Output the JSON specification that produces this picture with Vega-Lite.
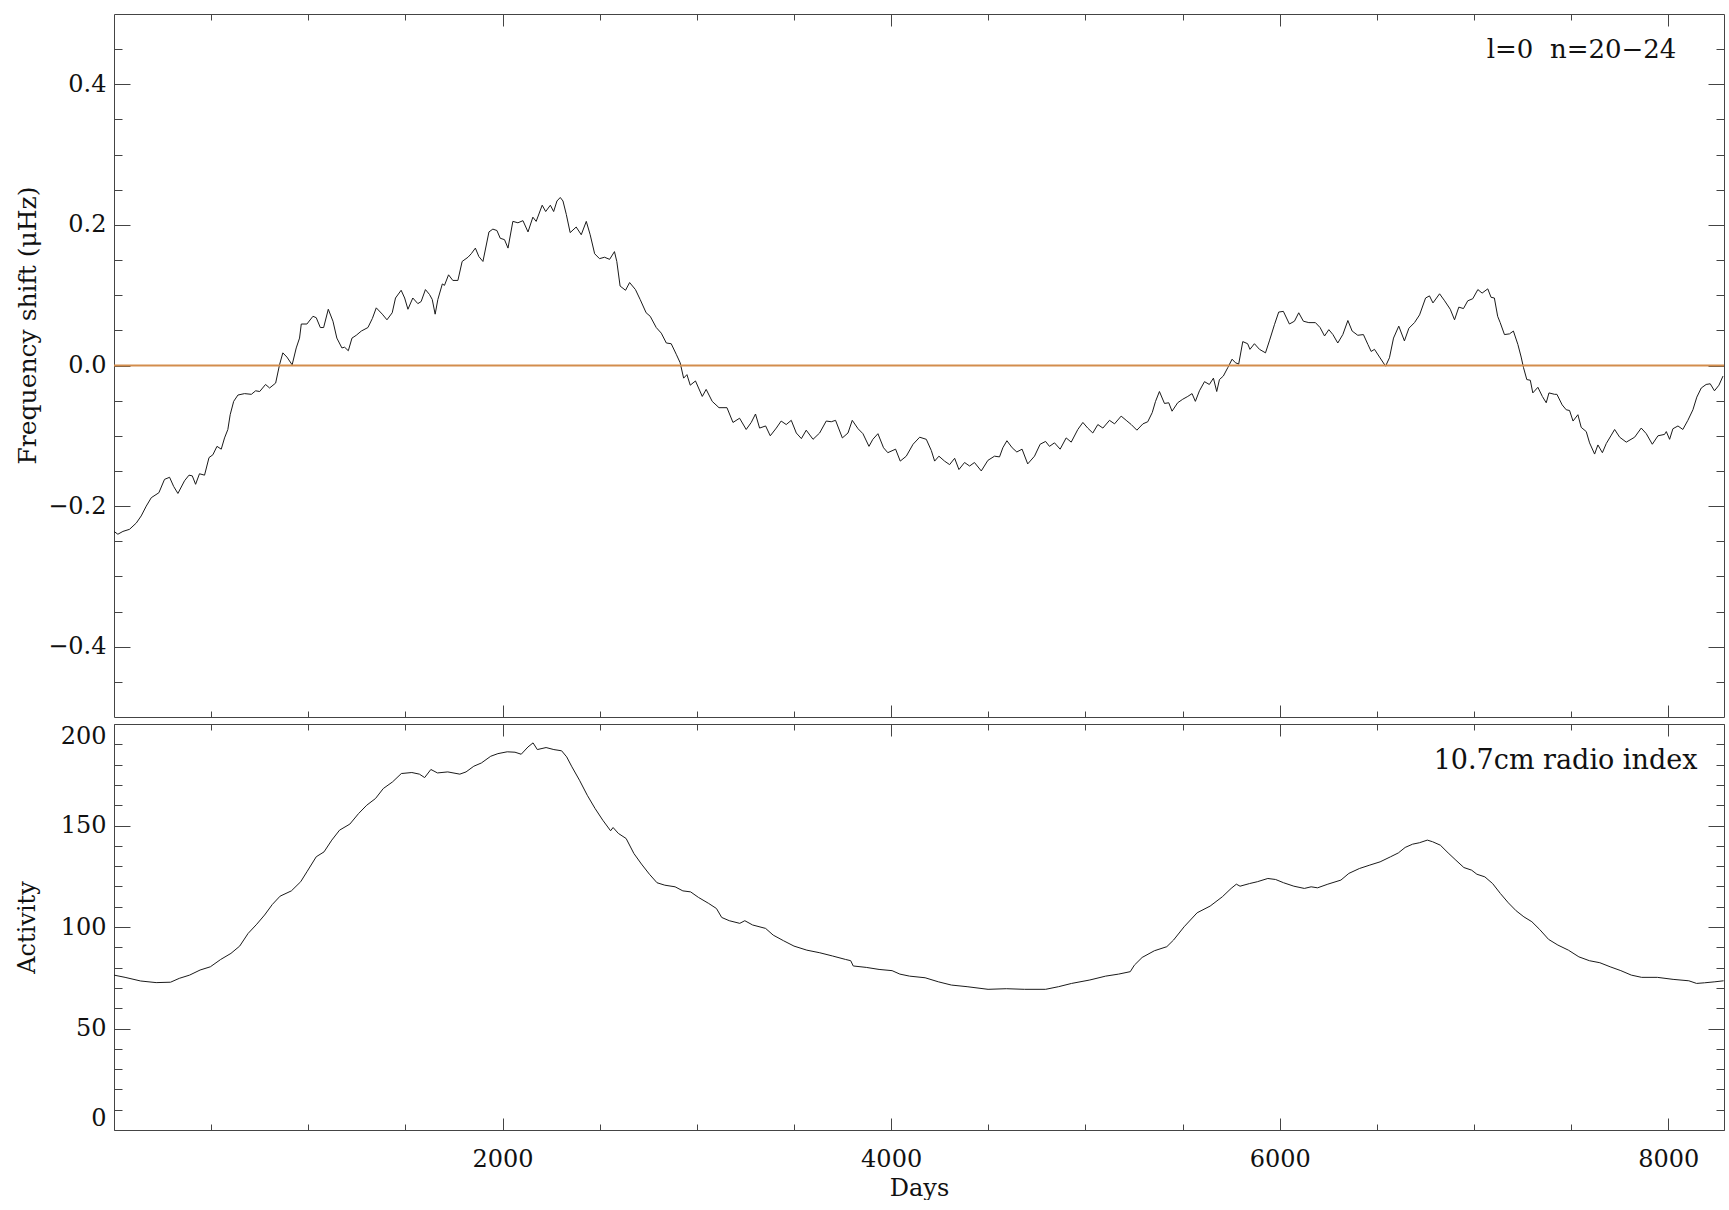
{
  "$schema": "https://vega.github.io/schema/vega-lite/v6.json",
  "background": "white",
  "padding": {"left": 15, "top": 13, "right": 4, "bottom": 0},
  "spacing": 5,
  "config": {
    "view": {"stroke": null},
    "font": "DejaVu Serif",
    "axis": {
      "labelFont": "DejaVu Serif", "titleFont": "DejaVu Serif",
      "labelFontSize": 24, "titleFontSize": 24,
      "labelColor": "#111", "titleColor": "#111", "titleFontWeight": "normal",
      "domainColor": "#444", "tickColor": "#444", "domainWidth": 1, "tickWidth": 1,
      "grid": false, "labelOverlap": false, "labelFlush": false
    }
  },
  "datasets": {
    "shift": [
      {"d":0,"v":-0.236},{"d":20,"v":-0.240},{"d":46,"v":-0.236},{"d":80,"v":-0.233},{"d":115,"v":-0.224},{"d":140,"v":-0.214},{"d":166,"v":-0.200},{"d":192,"v":-0.188},{"d":231,"v":-0.181},{"d":260,"v":-0.162},{"d":286,"v":-0.159},{"d":307,"v":-0.172},{"d":329,"v":-0.182},{"d":363,"v":-0.164},{"d":386,"v":-0.156},{"d":403,"v":-0.157},{"d":420,"v":-0.169},{"d":440,"v":-0.154},{"d":466,"v":-0.156},{"d":489,"v":-0.131},{"d":509,"v":-0.127},{"d":530,"v":-0.115},{"d":552,"v":-0.119},{"d":569,"v":-0.103},{"d":586,"v":-0.091},{"d":598,"v":-0.070},{"d":616,"v":-0.051},{"d":638,"v":-0.042},{"d":672,"v":-0.040},{"d":707,"v":-0.041},{"d":729,"v":-0.036},{"d":750,"v":-0.037},{"d":780,"v":-0.027},{"d":801,"v":-0.032},{"d":832,"v":-0.025},{"d":852,"v":0.001},{"d":869,"v":0.018},{"d":890,"v":0.012},{"d":917,"v":0.001},{"d":938,"v":0.025},{"d":955,"v":0.039},{"d":964,"v":0.059},{"d":993,"v":0.059},{"d":1024,"v":0.070},{"d":1041,"v":0.068},{"d":1062,"v":0.054},{"d":1079,"v":0.054},{"d":1103,"v":0.080},{"d":1127,"v":0.063},{"d":1147,"v":0.039},{"d":1173,"v":0.025},{"d":1187,"v":0.026},{"d":1206,"v":0.021},{"d":1225,"v":0.039},{"d":1247,"v":0.043},{"d":1273,"v":0.049},{"d":1307,"v":0.054},{"d":1330,"v":0.067},{"d":1350,"v":0.082},{"d":1381,"v":0.073},{"d":1405,"v":0.065},{"d":1432,"v":0.075},{"d":1449,"v":0.096},{"d":1478,"v":0.107},{"d":1496,"v":0.096},{"d":1513,"v":0.080},{"d":1538,"v":0.096},{"d":1564,"v":0.088},{"d":1581,"v":0.091},{"d":1603,"v":0.108},{"d":1624,"v":0.101},{"d":1638,"v":0.094},{"d":1653,"v":0.073},{"d":1667,"v":0.094},{"d":1690,"v":0.116},{"d":1701,"v":0.114},{"d":1722,"v":0.129},{"d":1744,"v":0.121},{"d":1770,"v":0.121},{"d":1792,"v":0.148},{"d":1822,"v":0.154},{"d":1839,"v":0.159},{"d":1860,"v":0.167},{"d":1878,"v":0.155},{"d":1899,"v":0.148},{"d":1930,"v":0.190},{"d":1950,"v":0.194},{"d":1971,"v":0.192},{"d":1988,"v":0.181},{"d":2010,"v":0.179},{"d":2028,"v":0.167},{"d":2053,"v":0.205},{"d":2079,"v":0.203},{"d":2105,"v":0.206},{"d":2131,"v":0.190},{"d":2156,"v":0.211},{"d":2173,"v":0.205},{"d":2204,"v":0.228},{"d":2222,"v":0.219},{"d":2246,"v":0.228},{"d":2263,"v":0.219},{"d":2280,"v":0.234},{"d":2297,"v":0.239},{"d":2311,"v":0.234},{"d":2328,"v":0.215},{"d":2348,"v":0.189},{"d":2379,"v":0.197},{"d":2405,"v":0.186},{"d":2431,"v":0.205},{"d":2451,"v":0.186},{"d":2474,"v":0.159},{"d":2499,"v":0.152},{"d":2525,"v":0.154},{"d":2551,"v":0.151},{"d":2576,"v":0.162},{"d":2588,"v":0.148},{"d":2605,"v":0.113},{"d":2633,"v":0.107},{"d":2654,"v":0.118},{"d":2684,"v":0.108},{"d":2708,"v":0.094},{"d":2739,"v":0.075},{"d":2760,"v":0.070},{"d":2791,"v":0.054},{"d":2817,"v":0.046},{"d":2843,"v":0.032},{"d":2868,"v":0.031},{"d":2894,"v":0.016},{"d":2914,"v":0.004},{"d":2932,"v":-0.018},{"d":2949,"v":-0.013},{"d":2966,"v":-0.028},{"d":2993,"v":-0.022},{"d":3028,"v":-0.044},{"d":3048,"v":-0.034},{"d":3079,"v":-0.051},{"d":3114,"v":-0.060},{"d":3155,"v":-0.060},{"d":3186,"v":-0.081},{"d":3220,"v":-0.075},{"d":3254,"v":-0.091},{"d":3280,"v":-0.081},{"d":3302,"v":-0.069},{"d":3323,"v":-0.089},{"d":3354,"v":-0.086},{"d":3378,"v":-0.100},{"d":3409,"v":-0.089},{"d":3434,"v":-0.079},{"d":3460,"v":-0.084},{"d":3486,"v":-0.078},{"d":3512,"v":-0.096},{"d":3538,"v":-0.104},{"d":3563,"v":-0.092},{"d":3598,"v":-0.105},{"d":3632,"v":-0.096},{"d":3666,"v":-0.079},{"d":3692,"v":-0.080},{"d":3714,"v":-0.078},{"d":3749,"v":-0.103},{"d":3778,"v":-0.096},{"d":3800,"v":-0.078},{"d":3830,"v":-0.090},{"d":3855,"v":-0.097},{"d":3886,"v":-0.115},{"d":3906,"v":-0.105},{"d":3932,"v":-0.097},{"d":3961,"v":-0.117},{"d":3983,"v":-0.124},{"d":4023,"v":-0.119},{"d":4047,"v":-0.136},{"d":4078,"v":-0.129},{"d":4113,"v":-0.112},{"d":4147,"v":-0.102},{"d":4181,"v":-0.105},{"d":4207,"v":-0.121},{"d":4224,"v":-0.136},{"d":4246,"v":-0.129},{"d":4275,"v":-0.136},{"d":4301,"v":-0.141},{"d":4327,"v":-0.132},{"d":4349,"v":-0.148},{"d":4378,"v":-0.138},{"d":4404,"v":-0.143},{"d":4429,"v":-0.138},{"d":4464,"v":-0.150},{"d":4498,"v":-0.135},{"d":4532,"v":-0.129},{"d":4558,"v":-0.130},{"d":4575,"v":-0.117},{"d":4596,"v":-0.107},{"d":4623,"v":-0.117},{"d":4647,"v":-0.123},{"d":4674,"v":-0.119},{"d":4703,"v":-0.140},{"d":4738,"v":-0.129},{"d":4767,"v":-0.112},{"d":4795,"v":-0.108},{"d":4815,"v":-0.115},{"d":4841,"v":-0.110},{"d":4870,"v":-0.119},{"d":4901,"v":-0.103},{"d":4927,"v":-0.109},{"d":4961,"v":-0.091},{"d":4987,"v":-0.081},{"d":5012,"v":-0.089},{"d":5038,"v":-0.096},{"d":5064,"v":-0.084},{"d":5090,"v":-0.089},{"d":5124,"v":-0.078},{"d":5150,"v":-0.083},{"d":5184,"v":-0.072},{"d":5210,"v":-0.078},{"d":5236,"v":-0.084},{"d":5265,"v":-0.092},{"d":5296,"v":-0.083},{"d":5321,"v":-0.080},{"d":5344,"v":-0.067},{"d":5361,"v":-0.051},{"d":5381,"v":-0.037},{"d":5407,"v":-0.054},{"d":5429,"v":-0.053},{"d":5446,"v":-0.065},{"d":5475,"v":-0.053},{"d":5501,"v":-0.048},{"d":5527,"v":-0.044},{"d":5549,"v":-0.040},{"d":5566,"v":-0.051},{"d":5587,"v":-0.036},{"d":5613,"v":-0.023},{"d":5638,"v":-0.027},{"d":5659,"v":-0.018},{"d":5676,"v":-0.037},{"d":5690,"v":-0.020},{"d":5710,"v":-0.015},{"d":5733,"v":-0.003},{"d":5755,"v":0.009},{"d":5772,"v":0.004},{"d":5789,"v":0.002},{"d":5810,"v":0.034},{"d":5835,"v":0.031},{"d":5847,"v":0.023},{"d":5870,"v":0.031},{"d":5896,"v":0.023},{"d":5927,"v":0.018},{"d":5947,"v":0.035},{"d":5973,"v":0.058},{"d":5995,"v":0.076},{"d":6019,"v":0.077},{"d":6050,"v":0.059},{"d":6076,"v":0.063},{"d":6098,"v":0.075},{"d":6122,"v":0.063},{"d":6150,"v":0.061},{"d":6184,"v":0.061},{"d":6208,"v":0.054},{"d":6231,"v":0.042},{"d":6253,"v":0.051},{"d":6274,"v":0.044},{"d":6299,"v":0.032},{"d":6325,"v":0.044},{"d":6351,"v":0.064},{"d":6373,"v":0.049},{"d":6402,"v":0.043},{"d":6431,"v":0.044},{"d":6454,"v":0.030},{"d":6471,"v":0.020},{"d":6488,"v":0.023},{"d":6514,"v":0.012},{"d":6545,"v":-0.001},{"d":6565,"v":0.011},{"d":6586,"v":0.039},{"d":6613,"v":0.056},{"d":6642,"v":0.035},{"d":6665,"v":0.053},{"d":6694,"v":0.061},{"d":6720,"v":0.072},{"d":6751,"v":0.096},{"d":6771,"v":0.099},{"d":6789,"v":0.089},{"d":6823,"v":0.102},{"d":6849,"v":0.092},{"d":6878,"v":0.080},{"d":6900,"v":0.065},{"d":6922,"v":0.083},{"d":6946,"v":0.081},{"d":6968,"v":0.092},{"d":6994,"v":0.095},{"d":7020,"v":0.108},{"d":7042,"v":0.103},{"d":7071,"v":0.109},{"d":7088,"v":0.097},{"d":7105,"v":0.096},{"d":7122,"v":0.070},{"d":7135,"v":0.061},{"d":7157,"v":0.044},{"d":7183,"v":0.045},{"d":7203,"v":0.049},{"d":7226,"v":0.030},{"d":7243,"v":0.012},{"d":7255,"v":-0.003},{"d":7272,"v":-0.020},{"d":7290,"v":-0.021},{"d":7303,"v":-0.039},{"d":7329,"v":-0.031},{"d":7352,"v":-0.044},{"d":7372,"v":-0.053},{"d":7386,"v":-0.039},{"d":7415,"v":-0.041},{"d":7427,"v":-0.041},{"d":7454,"v":-0.056},{"d":7475,"v":-0.063},{"d":7492,"v":-0.064},{"d":7510,"v":-0.079},{"d":7535,"v":-0.070},{"d":7552,"v":-0.088},{"d":7578,"v":-0.094},{"d":7595,"v":-0.110},{"d":7621,"v":-0.126},{"d":7638,"v":-0.113},{"d":7661,"v":-0.124},{"d":7681,"v":-0.111},{"d":7707,"v":-0.099},{"d":7724,"v":-0.091},{"d":7750,"v":-0.102},{"d":7784,"v":-0.109},{"d":7827,"v":-0.102},{"d":7861,"v":-0.089},{"d":7887,"v":-0.097},{"d":7918,"v":-0.112},{"d":7947,"v":-0.100},{"d":7981,"v":-0.098},{"d":7990,"v":-0.094},{"d":8007,"v":-0.105},{"d":8024,"v":-0.090},{"d":8050,"v":-0.086},{"d":8075,"v":-0.091},{"d":8101,"v":-0.078},{"d":8127,"v":-0.063},{"d":8147,"v":-0.045},{"d":8170,"v":-0.032},{"d":8195,"v":-0.027},{"d":8216,"v":-0.026},{"d":8238,"v":-0.036},{"d":8261,"v":-0.028},{"d":8282,"v":-0.015}
    ],
    "act": [
      {"d":0,"v":76.3},{"d":57,"v":75.2},{"d":137,"v":73.4},{"d":217,"v":72.6},{"d":291,"v":72.8},{"d":336,"v":74.7},{"d":389,"v":76.3},{"d":443,"v":78.8},{"d":496,"v":80.4},{"d":549,"v":84.0},{"d":602,"v":87.0},{"d":647,"v":90.6},{"d":690,"v":96.8},{"d":735,"v":101.4},{"d":775,"v":105.9},{"d":815,"v":111.1},{"d":855,"v":115.2},{"d":913,"v":117.8},{"d":961,"v":122.3},{"d":993,"v":127.2},{"d":1041,"v":134.6},{"d":1081,"v":137.0},{"d":1121,"v":142.8},{"d":1161,"v":147.7},{"d":1214,"v":150.7},{"d":1259,"v":155.9},{"d":1301,"v":160.0},{"d":1346,"v":163.3},{"d":1386,"v":168.2},{"d":1434,"v":171.5},{"d":1479,"v":175.6},{"d":1533,"v":176.1},{"d":1572,"v":175.3},{"d":1599,"v":173.6},{"d":1631,"v":177.6},{"d":1665,"v":175.9},{"d":1718,"v":176.4},{"d":1780,"v":175.3},{"d":1812,"v":176.4},{"d":1852,"v":179.2},{"d":1891,"v":180.8},{"d":1939,"v":184.1},{"d":1976,"v":185.4},{"d":2024,"v":186.3},{"d":2064,"v":186.1},{"d":2096,"v":185.1},{"d":2131,"v":188.7},{"d":2157,"v":190.7},{"d":2179,"v":187.4},{"d":2224,"v":188.4},{"d":2264,"v":187.4},{"d":2304,"v":186.8},{"d":2330,"v":183.8},{"d":2357,"v":178.9},{"d":2396,"v":172.3},{"d":2436,"v":164.9},{"d":2476,"v":158.4},{"d":2516,"v":152.6},{"d":2556,"v":147.4},{"d":2569,"v":149.0},{"d":2596,"v":146.1},{"d":2636,"v":143.6},{"d":2676,"v":136.2},{"d":2715,"v":131.0},{"d":2756,"v":126.0},{"d":2795,"v":121.8},{"d":2835,"v":120.6},{"d":2888,"v":119.8},{"d":2928,"v":117.8},{"d":2968,"v":117.3},{"d":3008,"v":114.6},{"d":3061,"v":111.6},{"d":3101,"v":109.1},{"d":3128,"v":104.7},{"d":3167,"v":103.1},{"d":3221,"v":101.8},{"d":3247,"v":103.1},{"d":3287,"v":101.0},{"d":3354,"v":99.3},{"d":3393,"v":96.0},{"d":3447,"v":93.2},{"d":3500,"v":90.6},{"d":3566,"v":88.6},{"d":3633,"v":87.3},{"d":3699,"v":85.7},{"d":3766,"v":84.0},{"d":3792,"v":83.4},{"d":3805,"v":80.8},{"d":3872,"v":80.1},{"d":3938,"v":79.1},{"d":4005,"v":78.5},{"d":4045,"v":76.8},{"d":4095,"v":75.8},{"d":4175,"v":75.0},{"d":4243,"v":73.0},{"d":4310,"v":71.4},{"d":4391,"v":70.6},{"d":4499,"v":69.3},{"d":4593,"v":69.6},{"d":4687,"v":69.3},{"d":4795,"v":69.3},{"d":4862,"v":70.6},{"d":4929,"v":72.2},{"d":5023,"v":73.9},{"d":5104,"v":75.8},{"d":5171,"v":76.8},{"d":5231,"v":78.0},{"d":5252,"v":81.2},{"d":5292,"v":85.0},{"d":5355,"v":88.3},{"d":5419,"v":90.3},{"d":5454,"v":93.6},{"d":5508,"v":100.1},{"d":5575,"v":107.0},{"d":5642,"v":110.3},{"d":5705,"v":114.9},{"d":5750,"v":119.0},{"d":5777,"v":121.1},{"d":5796,"v":120.1},{"d":5845,"v":121.4},{"d":5885,"v":122.3},{"d":5939,"v":123.9},{"d":5979,"v":123.4},{"d":6020,"v":121.8},{"d":6073,"v":120.1},{"d":6127,"v":119.0},{"d":6162,"v":119.8},{"d":6195,"v":119.3},{"d":6248,"v":121.1},{"d":6315,"v":123.1},{"d":6356,"v":126.4},{"d":6410,"v":128.8},{"d":6464,"v":130.5},{"d":6517,"v":132.1},{"d":6571,"v":134.6},{"d":6611,"v":136.5},{"d":6646,"v":139.2},{"d":6684,"v":140.8},{"d":6719,"v":141.5},{"d":6760,"v":142.8},{"d":6787,"v":142.0},{"d":6827,"v":140.3},{"d":6867,"v":136.5},{"d":6907,"v":132.9},{"d":6948,"v":129.3},{"d":6988,"v":128.0},{"d":7015,"v":126.0},{"d":7056,"v":124.7},{"d":7096,"v":121.4},{"d":7136,"v":116.5},{"d":7177,"v":111.9},{"d":7217,"v":108.0},{"d":7257,"v":105.0},{"d":7298,"v":102.6},{"d":7338,"v":98.8},{"d":7384,"v":93.9},{"d":7432,"v":91.1},{"d":7486,"v":88.6},{"d":7540,"v":85.3},{"d":7594,"v":83.4},{"d":7648,"v":82.4},{"d":7701,"v":80.4},{"d":7756,"v":78.5},{"d":7810,"v":76.3},{"d":7863,"v":75.2},{"d":7944,"v":75.2},{"d":8025,"v":74.2},{"d":8106,"v":73.5},{"d":8146,"v":72.2},{"d":8186,"v":72.5},{"d":8240,"v":73.0},{"d":8285,"v":73.5}
    ]
  },
  "vconcat": [
    {
      "width": 1610,
      "height": 703,
      "layer": [
        {
          "data": {"name": "shift"},
          "mark": {"type": "line", "color": "#1a1a1a", "strokeWidth": 1},
          "encoding": {
            "x": {
              "field": "d", "type": "quantitative",
              "scale": {"domain": [0, 8287], "nice": false, "zero": false},
              "axis": {
                "orient": "bottom", "title": null, "labels": false,
                "values": [500,1000,1500,2000,2500,3000,3500,4000,4500,5000,5500,6000,6500,7000,7500,8000],
                "tickSize": {"condition": {"test": "datum.value % 2000 === 0", "value": -12}, "value": -6}
              }
            },
            "y": {
              "field": "v", "type": "quantitative",
              "scale": {"domain": [-0.5, 0.5], "nice": false, "zero": false},
              "axis": {
                "orient": "left",
                "values": [-0.45,-0.4,-0.35,-0.3,-0.25,-0.2,-0.15,-0.1,-0.05,0,0.05,0.1,0.15,0.2,0.25,0.3,0.35,0.4,0.45],
                "format": ".1f",
                "labelExpr": "abs(round(datum.value*100)) % 20 === 0 ? datum.label : ''",
                "tickSize": {"condition": {"test": "abs(round(datum.value*100)) % 20 === 0", "value": -16}, "value": -8},
                "labelPadding": 24,
                "title": "Frequency shift (μHz)",
                "titleFontSize": 25,
                "titleX": -87, "titleY": 311, "titleBaseline": "middle", "titleAngle": -90
              }
            }
          }
        },
        {
          "data": {"values": [{}]},
          "mark": {"type": "rule", "color": "#d38d4d", "strokeWidth": 2},
          "encoding": {
            "y": {"datum": 0, "type": "quantitative", "scale": {"domain": [-0.5, 0.5], "nice": false, "zero": false}, "axis": null}
          }
        },
        {
          "data": {"values": [{}]},
          "mark": {"type": "text", "align": "right", "baseline": "alphabetic", "font": "DejaVu Serif", "fontSize": 26, "color": "#111"},
          "encoding": {
            "x": {
              "datum": 8042, "type": "quantitative",
              "scale": {"domain": [0, 8287], "nice": false, "zero": false},
              "axis": {
                "orient": "top", "title": null, "labels": false,
                "values": [500,1000,1500,2000,2500,3000,3500,4000,4500,5000,5500,6000,6500,7000,7500,8000],
                "tickSize": {"condition": {"test": "datum.value % 2000 === 0", "value": -12}, "value": -6}
              }
            },
            "y": {
              "datum": 0.437, "type": "quantitative",
              "scale": {"domain": [-0.5, 0.5], "nice": false, "zero": false},
              "axis": {
                "orient": "right", "title": null, "labels": false,
                "values": [-0.45,-0.4,-0.35,-0.3,-0.25,-0.2,-0.15,-0.1,-0.05,0,0.05,0.1,0.15,0.2,0.25,0.3,0.35,0.4,0.45],
                "tickSize": {"condition": {"test": "abs(round(datum.value*100)) % 20 === 0", "value": -16}, "value": -8}
              }
            },
            "text": {"value": "l=0\u00a0 n=20−24"}
          }
        }
      ],
      "resolve": {"axis": {"x": "independent", "y": "independent"}}
    },
    {
      "width": 1610,
      "height": 406,
      "layer": [
        {
          "data": {"name": "act"},
          "mark": {"type": "line", "color": "#1a1a1a", "strokeWidth": 1},
          "encoding": {
            "x": {
              "field": "d", "type": "quantitative",
              "scale": {"domain": [0, 8287], "nice": false, "zero": false},
              "axis": {
                "orient": "bottom",
                "values": [500,1000,1500,2000,2500,3000,3500,4000,4500,5000,5500,6000,6500,7000,7500,8000],
                "format": "d",
                "labelExpr": "datum.value % 2000 === 0 ? datum.label : ''",
                "tickSize": {"condition": {"test": "datum.value % 2000 === 0", "value": -12}, "value": -6},
                "labelPadding": 29,
                "title": "Days",
                "titleY": 65, "titleBaseline": "alphabetic"
              }
            },
            "y": {
              "field": "v", "type": "quantitative",
              "scale": {"domain": [0, 200], "nice": false, "zero": false},
              "axis": {
                "orient": "left",
                "values": [0,10,20,30,40,50,60,70,80,90,100,110,120,130,140,150,160,170,180,190,200],
                "format": "d",
                "labelExpr": "datum.value % 50 === 0 ? datum.label : ''",
                "tickSize": {"condition": {"test": "datum.value % 50 === 0", "value": -16}, "value": -8},
                "labelPadding": 24,
                "labelFlush": true,
                "title": "Activity",
                "titleX": -87, "titleY": 203, "titleBaseline": "middle", "titleAngle": -90
              }
            }
          }
        },
        {
          "data": {"values": [{}]},
          "mark": {"type": "text", "align": "right", "baseline": "alphabetic", "font": "DejaVu Serif", "fontSize": 27, "color": "#111"},
          "encoding": {
            "x": {
              "datum": 8150, "type": "quantitative",
              "scale": {"domain": [0, 8287], "nice": false, "zero": false},
              "axis": {
                "orient": "top", "title": null, "labels": false,
                "values": [500,1000,1500,2000,2500,3000,3500,4000,4500,5000,5500,6000,6500,7000,7500,8000],
                "tickSize": {"condition": {"test": "datum.value % 2000 === 0", "value": -12}, "value": -6}
              }
            },
            "y": {
              "datum": 178, "type": "quantitative",
              "scale": {"domain": [0, 200], "nice": false, "zero": false},
              "axis": {
                "orient": "right", "title": null, "labels": false,
                "values": [0,10,20,30,40,50,60,70,80,90,100,110,120,130,140,150,160,170,180,190,200],
                "tickSize": {"condition": {"test": "datum.value % 50 === 0", "value": -16}, "value": -8}
              }
            },
            "text": {"value": "10.7cm radio index"}
          }
        }
      ],
      "resolve": {"axis": {"x": "independent", "y": "independent"}}
    }
  ]
}
